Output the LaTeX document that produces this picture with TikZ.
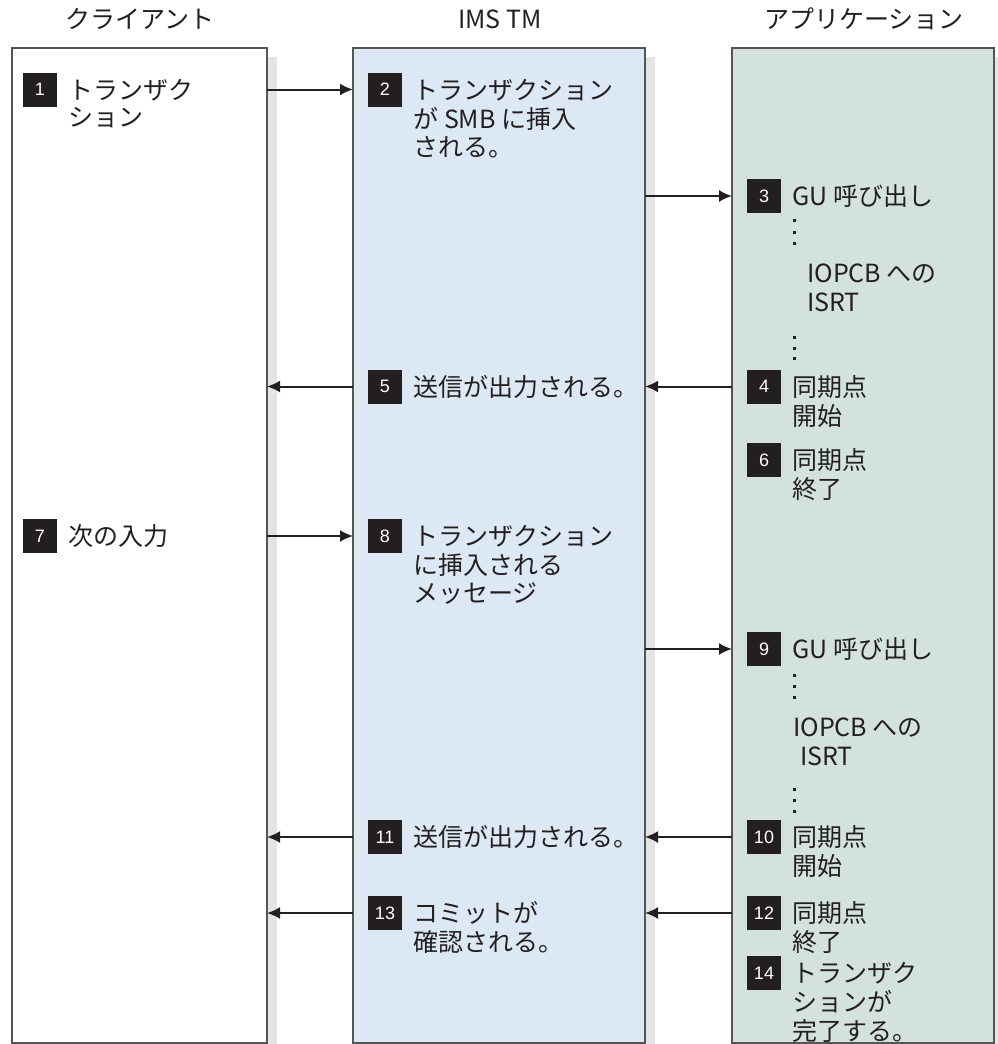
\documentclass[tikz,border=0pt]{standalone}
\usepackage{fontspec}
\usepackage{xcolor,tikz}
\usetikzlibrary{arrows.meta,positioning,shadows,calc}
\newfontfamily\jpfont{Noto Sans CJK JP}
\newfontfamily\numfont{Liberation Sans}
\definecolor{imsfill}{HTML}{DCE9F5}
\definecolor{appfill}{HTML}{D3E3DB}
\definecolor{shade}{HTML}{E3E4E6}
\definecolor{edge}{HTML}{555555}
\definecolor{ink}{HTML}{231F20}
% lines of a note, baseline on the first line
\newcommand\notelines[1]{\begin{tabular}[t]{@{}l@{}}#1\end{tabular}}
\tikzset{
  colbox/.style={draw=edge,line width=1.5pt,outer sep=0pt,inner sep=0pt,minimum height=995pt,
    general shadow={shadow xshift=10pt,shadow yshift=-9pt,fill=shade}},
  title/.style={anchor=base,text=ink,font={\jpfont\fontsize{25}{27}\selectfont}},
  badge/.style={fill=ink,text=white,minimum size=34pt,inner sep=0pt,font={\numfont\fontsize{18}{18}\selectfont}},
  note/.style={anchor=base west,xshift=11pt,yshift=-9.5pt,inner sep=0pt,text=ink,
    font={\jpfont\fontsize{25}{27}\selectfont}},
  flow/.style={draw=ink,line width=2pt,-{Latex[length=13pt,width=12pt]}}
}

\begin{document}
\begin{tikzpicture}[x=1pt,y=-1pt]
\useasboundingbox (0,0) rectangle (998,1044);
\node[title] (hcli) at (140,28){クライアント};
\node[title] (hims) at (500,28){IMS TM};
\node[title] (happ) at (864,28){アプリケーション};
\node[colbox,fill=white,minimum width=255pt] (cli) at (139.5,545.5){};
\node[colbox,fill=imsfill,minimum width=292pt] (ims) at (499,545.5){};
\node[colbox,fill=appfill,minimum width=262pt] (app) at (863,545.5){};
\foreach \n/\bx/\by in {1/40/89.5,2/385/89.5,3/764/196,4/764/386.5,5/385/386.5,6/764/460,
  7/40/536,8/385/536,9/764/649,10/764/837,11/385/837,12/764/913,13/385/913,14/764/973}{
  \node[badge] (b\n) at (\bx,\by){\n};
}
\node[note] (t1) at (b1.east){\notelines{トランザク\\ション}};
\node[note] (t2) at (b2.east){\notelines{トランザクション\\が SMB に挿入\\される。}};
\node[note] (t3) at (b3.east){GU 呼び出し};
\node[note] (t4) at (b4.east){\notelines{同期点\\開始}};
\node[note] (t5) at (b5.east){送信が出力される。};
\node[note] (t6) at (b6.east){\notelines{同期点\\終了}};
\node[note] (t7) at (b7.east){次の入力};
\node[note] (t8) at (b8.east){\notelines{トランザクション\\に挿入される\\メッセージ}};
\node[note] (t9) at (b9.east){GU 呼び出し};
\node[note] (t10) at (b10.east){\notelines{同期点\\開始}};
\node[note] (t11) at (b11.east){送信が出力される。};
\node[note] (t12) at (b12.east){\notelines{同期点\\終了}};
\node[note] (t13) at (b13.east){\notelines{コミットが\\確認される。}};
\node[note] (t14) at (b14.east){\notelines{トランザク\\ションが\\完了する。}};
\node[note] (isrt3) at (796,273){\notelines{IOPCB への\\[2pt]ISRT}};
\node[note] (isrt9) at (782,727){\notelines{IOPCB への\\[2pt]\hspace*{7pt}ISRT}};
% vertical dots between the calls
\foreach \dy in {220,232,243,337,348,358,675,686,697,789,800,811}
  \fill[ink] (792.5,\dy-1.5) rectangle ++(3,3);
\foreach \s/\e/\n in {cli.east/ims.west/1,ims.east/app.west/3,app.west/ims.east/4,ims.west/cli.east/5,
  cli.east/ims.west/7,ims.east/app.west/9,app.west/ims.east/10,ims.west/cli.east/11,
  app.west/ims.east/12,ims.west/cli.east/13}
  \draw[flow] (\s |- b\n) -- (\e |- b\n);
\end{tikzpicture}
\end{document}
